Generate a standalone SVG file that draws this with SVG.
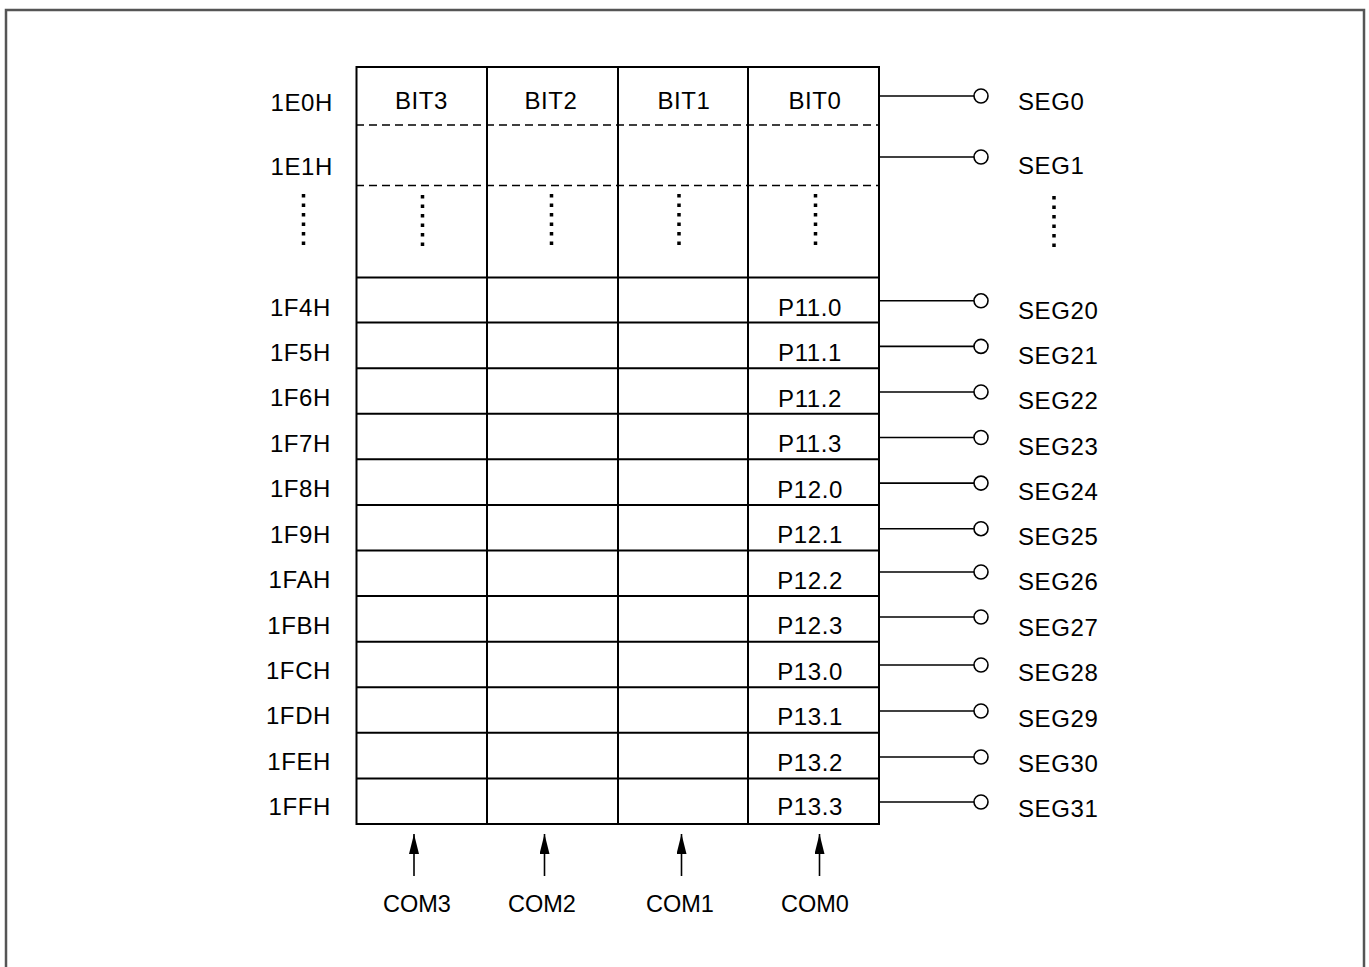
<svg xmlns="http://www.w3.org/2000/svg" width="1369" height="967" viewBox="0 0 1369 967">
<defs>
<style>
.t{font-family:"Liberation Sans",Arial,sans-serif;font-size:24px;letter-spacing:0.6px;fill:#000}
.cm{font-size:23.5px;letter-spacing:0}
.r{text-anchor:end}
.m{text-anchor:middle}
.g{stroke:#000;stroke-width:2;fill:none}
.d{stroke:#000;stroke-width:1.5;stroke-dasharray:8 5;fill:none}
.dot{stroke:#000;stroke-width:3.5;stroke-dasharray:3.5 6;fill:none}
.w{stroke:#000;stroke-width:1.6;fill:none}
.c{stroke:#000;stroke-width:1.6;fill:#fff}
</style>
<marker id="ah" viewBox="0 0 20 10" refX="20" refY="5" markerWidth="20" markerHeight="10" markerUnits="userSpaceOnUse" orient="auto">
<path d="M0,0 L20,5 L0,10 Z" fill="#000"/>
</marker>
</defs>
<rect width="1369" height="967" fill="#fff"/>
<path d="M6,967 V10 H1364 V967" stroke="#555" stroke-width="2.5" fill="none"/>

<g id="grid">
<rect x="356.5" y="67" width="522.5" height="757" class="g"/>
<line x1="487" y1="67" x2="487" y2="824" class="g"/>
<line x1="618" y1="67" x2="618" y2="824" class="g"/>
<line x1="748" y1="67" x2="748" y2="824" class="g"/>
<line x1="356" y1="125" x2="879" y2="125" class="d"/>
<line x1="356" y1="185.5" x2="879" y2="185.5" class="d"/>
<line x1="356" y1="277.5" x2="879" y2="277.5" class="g"/>
<line x1="356" y1="322.6" x2="879" y2="322.6" class="g"/>
<line x1="356" y1="368.2" x2="879" y2="368.2" class="g"/>
<line x1="356" y1="413.8" x2="879" y2="413.8" class="g"/>
<line x1="356" y1="459.3" x2="879" y2="459.3" class="g"/>
<line x1="356" y1="504.9" x2="879" y2="504.9" class="g"/>
<line x1="356" y1="550.5" x2="879" y2="550.5" class="g"/>
<line x1="356" y1="596" x2="879" y2="596" class="g"/>
<line x1="356" y1="641.7" x2="879" y2="641.7" class="g"/>
<line x1="356" y1="687.2" x2="879" y2="687.2" class="g"/>
<line x1="356" y1="732.8" x2="879" y2="732.8" class="g"/>
<line x1="356" y1="778.4" x2="879" y2="778.4" class="g"/>
<line x1="303.5" y1="194" x2="303.5" y2="245" class="dot"/>
<line x1="422.5" y1="195" x2="422.5" y2="246" class="dot"/>
<line x1="551.5" y1="194" x2="551.5" y2="245" class="dot"/>
<line x1="679" y1="194" x2="679" y2="245" class="dot"/>
<line x1="815.5" y1="194" x2="815.5" y2="245" class="dot"/>
<line x1="1054" y1="196" x2="1054" y2="247" class="dot"/>
</g>

<g id="headers">
<text class="t m" x="421.5" y="109">BIT3</text>
<text class="t m" x="551" y="109">BIT2</text>
<text class="t m" x="684" y="109">BIT1</text>
<text class="t m" x="815" y="109">BIT0</text>
</g>

<g id="addresses">
<text class="t r" x="333" y="111">1E0H</text>
<text class="t r" x="333" y="175">1E1H</text>
<text class="t r" x="331" y="316">1F4H</text>
<text class="t r" x="331" y="361">1F5H</text>
<text class="t r" x="331" y="406">1F6H</text>
<text class="t r" x="331" y="452">1F7H</text>
<text class="t r" x="331" y="497">1F8H</text>
<text class="t r" x="331" y="543">1F9H</text>
<text class="t r" x="331" y="588">1FAH</text>
<text class="t r" x="331" y="634">1FBH</text>
<text class="t r" x="331" y="679">1FCH</text>
<text class="t r" x="331" y="724">1FDH</text>
<text class="t r" x="331" y="770">1FEH</text>
<text class="t r" x="331" y="815">1FFH</text>
</g>

<g id="ports">
<text class="t m" x="810" y="316">P11.0</text>
<text class="t m" x="810" y="361">P11.1</text>
<text class="t m" x="810" y="407">P11.2</text>
<text class="t m" x="810" y="452">P11.3</text>
<text class="t m" x="810" y="498">P12.0</text>
<text class="t m" x="810" y="543">P12.1</text>
<text class="t m" x="810" y="589">P12.2</text>
<text class="t m" x="810" y="634">P12.3</text>
<text class="t m" x="810" y="680">P13.0</text>
<text class="t m" x="810" y="725">P13.1</text>
<text class="t m" x="810" y="771">P13.2</text>
<text class="t m" x="810" y="815">P13.3</text>
</g>

<g id="connectors">
<line x1="879" y1="96" x2="974" y2="96" class="w"/><circle cx="981" cy="96" r="7" class="c"/>
<line x1="879" y1="157" x2="974" y2="157" class="w"/><circle cx="981" cy="157" r="7" class="c"/>
<line x1="879" y1="300.8" x2="974" y2="300.8" class="w"/><circle cx="981" cy="300.8" r="7" class="c"/>
<line x1="879" y1="346.4" x2="974" y2="346.4" class="w"/><circle cx="981" cy="346.4" r="7" class="c"/>
<line x1="879" y1="392" x2="974" y2="392" class="w"/><circle cx="981" cy="392" r="7" class="c"/>
<line x1="879" y1="437.5" x2="974" y2="437.5" class="w"/><circle cx="981" cy="437.5" r="7" class="c"/>
<line x1="879" y1="483.1" x2="974" y2="483.1" class="w"/><circle cx="981" cy="483.1" r="7" class="c"/>
<line x1="879" y1="528.7" x2="974" y2="528.7" class="w"/><circle cx="981" cy="528.7" r="7" class="c"/>
<line x1="879" y1="572" x2="974" y2="572" class="w"/><circle cx="981" cy="572" r="7" class="c"/>
<line x1="879" y1="617" x2="974" y2="617" class="w"/><circle cx="981" cy="617" r="7" class="c"/>
<line x1="879" y1="665" x2="974" y2="665" class="w"/><circle cx="981" cy="665" r="7" class="c"/>
<line x1="879" y1="711" x2="974" y2="711" class="w"/><circle cx="981" cy="711" r="7" class="c"/>
<line x1="879" y1="757" x2="974" y2="757" class="w"/><circle cx="981" cy="757" r="7" class="c"/>
<line x1="879" y1="802" x2="974" y2="802" class="w"/><circle cx="981" cy="802" r="7" class="c"/>
<line x1="414" y1="876" x2="414" y2="834" class="w" marker-end="url(#ah)"/>
<line x1="544.5" y1="876" x2="544.5" y2="834" class="w" marker-end="url(#ah)"/>
<line x1="681.5" y1="876" x2="681.5" y2="834" class="w" marker-end="url(#ah)"/>
<line x1="819.5" y1="876" x2="819.5" y2="834" class="w" marker-end="url(#ah)"/>
</g>

<g id="segments">
<text class="t" x="1018" y="110">SEG0</text>
<text class="t" x="1018" y="174">SEG1</text>
<text class="t" x="1018" y="319">SEG20</text>
<text class="t" x="1018" y="364">SEG21</text>
<text class="t" x="1018" y="409">SEG22</text>
<text class="t" x="1018" y="455">SEG23</text>
<text class="t" x="1018" y="500">SEG24</text>
<text class="t" x="1018" y="545">SEG25</text>
<text class="t" x="1018" y="590">SEG26</text>
<text class="t" x="1018" y="636">SEG27</text>
<text class="t" x="1018" y="681">SEG28</text>
<text class="t" x="1018" y="727">SEG29</text>
<text class="t" x="1018" y="772">SEG30</text>
<text class="t" x="1018" y="817">SEG31</text>
</g>

<g id="commons">
<text class="t cm m" x="417" y="912">COM3</text>
<text class="t cm m" x="542" y="912">COM2</text>
<text class="t cm m" x="680" y="912">COM1</text>
<text class="t cm m" x="815" y="912">COM0</text>
</g>
</svg>
